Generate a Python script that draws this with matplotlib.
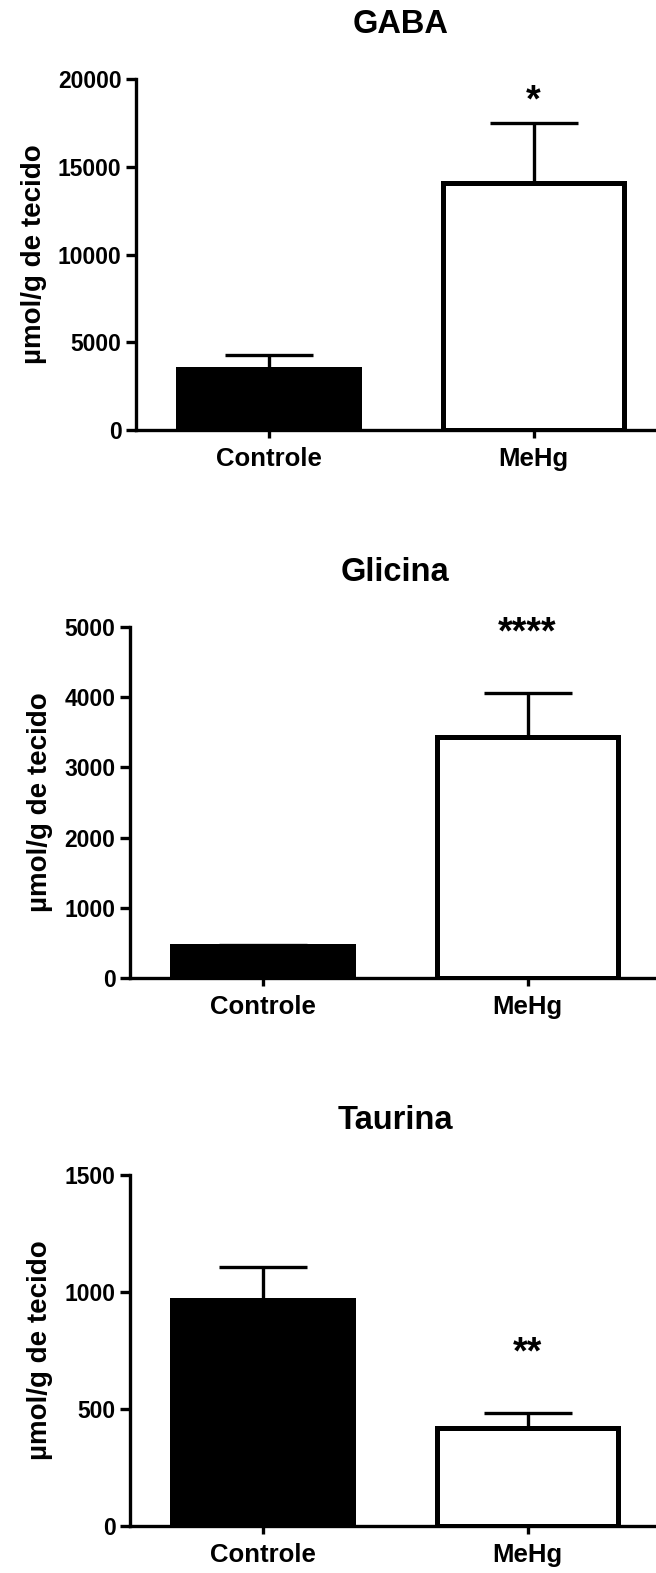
import matplotlib
matplotlib.use("Agg")
import matplotlib.pyplot as plt

plt.rcParams["font.family"] = ["Liberation Sans", "DejaVu Sans"]
plt.rcParams["font.weight"] = "bold"

groups = ["Controle", "MeHg"]

titles = ["GABA", "Glicina", "Taurina"]
means = [
    [3500, 14050],
    [450, 3430],
    [965, 420],
]
errors = [
    [750, 3450],
    [25, 630],
    [140, 65],
]
y_max = [20000, 5000, 1500]
y_step = [5000, 1000, 500]
stars = ["*", "****", "**"]
star_y = [19100, 4990, 765]

W, H = 656, 1573
fig = plt.figure(figsize=(W / 100, H / 100), dpi=100)

# caixas dos eixos em pixels: esquerda, topo, base
boxes = [(136, 79, 430), (130, 627, 978), (130, 1175, 1526)]
AX_W = 530

for i, (left, top, bottom) in enumerate(boxes):
    ax = fig.add_axes([left / W, 1 - bottom / H, AX_W / W, (bottom - top) / H])
    x = [0, 1]
    ax.bar(x, means[i], width=0.68, color=["black", "white"],
           edgecolor="black", linewidth=3.6, zorder=2)
    ax.errorbar(x, means[i], yerr=[[0, 0], errors[i]], fmt="none",
                ecolor="black", elinewidth=2.4, capsize=32, capthick=2.4, zorder=1)
    ax.annotate(stars[i], (1, star_y[i]), xytext=(0, -4.5), textcoords="offset points",
                ha="center", va="center", fontsize=27, fontweight="bold")

    ax.set_xlim(-0.5, 1.5)
    ax.set_ylim(0, y_max[i])
    ax.set_yticks(range(0, y_max[i] + 1, y_step[i]))
    ax.set_xticks(x)
    ax.set_xticklabels(groups, fontsize=18.5, fontweight="bold")
    for lab in ax.get_yticklabels():
        lab.set_fontsize(16.5)
        lab.set_fontweight("bold")
    ax.tick_params(axis="x", width=2.4, length=6, pad=6)
    ax.tick_params(axis="y", width=2.4, length=7, pad=3.5)
    for s in ["top", "right"]:
        ax.spines[s].set_visible(False)
    for s in ["left", "bottom"]:
        ax.spines[s].set_linewidth(2.4)
    ax.set_ylabel("µmol/g de tecido", fontsize=20, fontweight="bold", labelpad=8)
    ax.set_title(titles[i], fontsize=23.5, fontweight="bold", pad=33)

fig.savefig("out.png", dpi=100)
